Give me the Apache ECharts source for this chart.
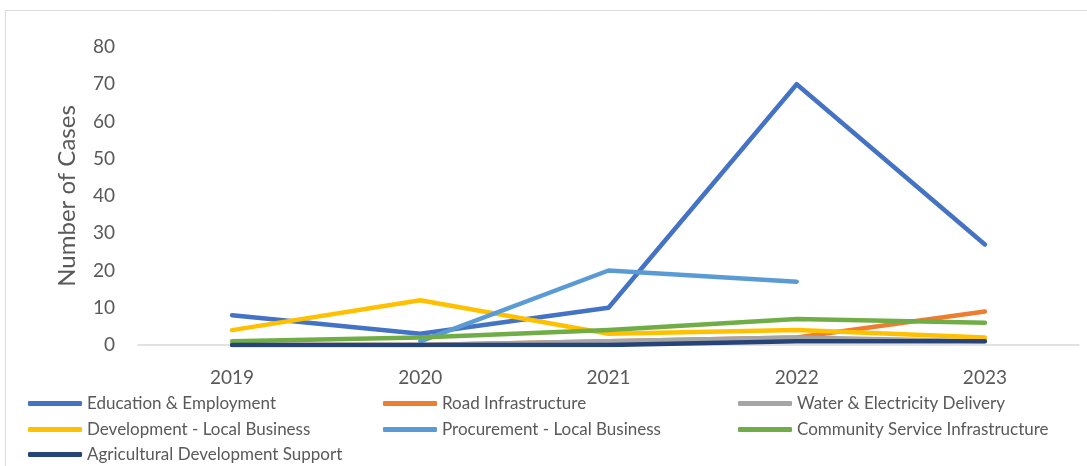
<!DOCTYPE html>
<html>
<head>
<meta charset="utf-8">
<script src="https://cdn.jsdelivr.net/npm/echarts@6/dist/echarts.min.js"></script>
<style>
  html, body { margin: 0; padding: 0; background: #fff; }
  #chart { width: 1087px; height: 466px; }
</style>
</head>
<body>
<div id="chart"></div>
<script>
// Yearly case counts per category
const years = ['2019', '2020', '2021', '2022', '2023'];
const educationEmployment = [8, 3, 10, 70, 27];
const roadInfrastructure = [0, 0, 1, 2, 9];
const waterElectricity = [0, 0, 1, 2, 1];
const developmentLocal = [4, 12, 3, 4, 2];
const procurementLocal = [null, 1, 20, 17, null];
const communityInfrastructure = [1, 2, 4, 7, 6];
const agriculturalSupport = [0, 0, 0, 1, 1];
const yTicks = { min: 0, max: 80, interval: 10 };

const seriesDefs = [
  { name: 'Education & Employment', data: educationEmployment, color: '#4472C4' },
  { name: 'Road Infrastructure', data: roadInfrastructure, color: '#ED7D31' },
  { name: 'Water & Electricity Delivery', data: waterElectricity, color: '#A5A5A5' },
  { name: 'Development - Local Business', data: developmentLocal, color: '#FFC000' },
  { name: 'Procurement - Local Business', data: procurementLocal, color: '#5B9BD5' },
  { name: 'Community Service Infrastructure', data: communityInfrastructure, color: '#70AD47' },
  { name: 'Agricultural Development Support', data: agriculturalSupport, color: '#264478' }
];

const FONT = 'Lato, "Noto Sans", sans-serif';
const textGray = '#595959';

// legend slots: three columns, three rows
const colX = [28, 383, 738];
const rowY = [395, 421, 446];
const legends = seriesDefs.map((s, i) => ({
  data: [s.name],
  left: colX[i % 3],
  top: rowY[Math.floor(i / 3)],
  orient: 'horizontal',
  icon: 'roundRect',
  itemWidth: 54,
  itemHeight: 5,
  itemGap: 0,
  padding: 0,
  textStyle: { color: textGray, fontSize: 17, fontFamily: FONT, padding: [0, 0, 0, 0] },
  selectedMode: false
}));

const chart = echarts.init(document.getElementById('chart'), null, { renderer: 'canvas' });
chart.setOption({
  animation: false,
  backgroundColor: '#ffffff',
  graphic: [{
    type: 'rect',
    shape: { x: 5.5, y: 10.5, width: 1200, height: 600 },
    style: { fill: 'none', stroke: '#d9d9d9', lineWidth: 1 },
    silent: true,
    z: -1
  }],
  grid: { left: 138, right: 8, top: 47, bottom: 121, containLabel: false },
  legend: legends,
  xAxis: {
    type: 'category',
    data: years,
    boundaryGap: true,
    axisLine: { show: true, lineStyle: { color: '#d9d9d9', width: 1.5 } },
    axisTick: { show: false },
    axisLabel: { color: textGray, fontSize: 19, fontFamily: FONT, margin: 23 }
  },
  yAxis: {
    type: 'value',
    min: yTicks.min,
    max: yTicks.max,
    interval: yTicks.interval,
    name: 'Number of Cases',
    nameLocation: 'middle',
    nameGap: 59,
    nameRotate: 90,
    nameTextStyle: { color: textGray, fontSize: 24, fontFamily: FONT },
    axisLine: { show: false },
    axisTick: { show: false },
    splitLine: { show: false },
    axisLabel: { color: textGray, fontSize: 19, fontFamily: FONT, margin: 23 }
  },
  series: seriesDefs.map(s => ({
    name: s.name,
    type: 'line',
    data: s.data,
    color: s.color,
    showSymbol: false,
    symbol: 'none',
    connectNulls: false,
    lineStyle: { color: s.color, width: 4.5, cap: 'round', join: 'round' },
    itemStyle: { color: s.color }
  }))
});
</script>
</body>
</html>
